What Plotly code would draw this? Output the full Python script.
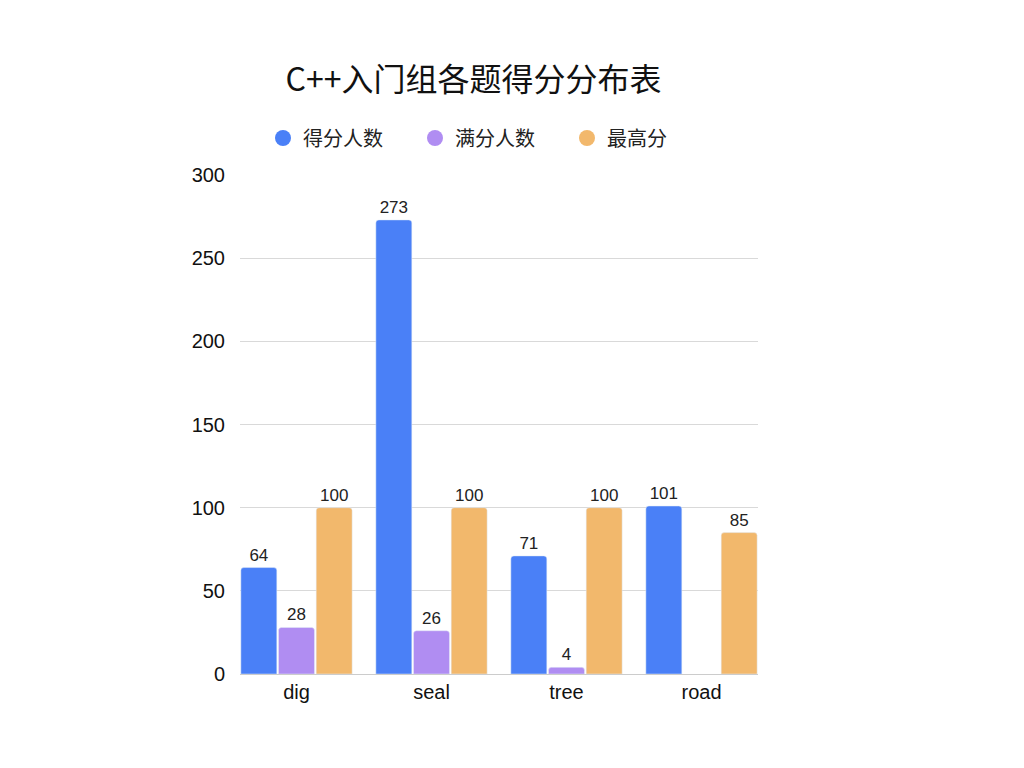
import plotly.graph_objects as go

categories = ["dig", "seal", "tree", "road"]
series_names = ["得分人数", "满分人数", "最高分"]
score_count = [64, 273, 71, 101]
full_count = [28, 26, 4, None]
max_score = [100, 100, 100, 85]
colors = ["#4A80F7", "#B08DF2", "#F2B86C"]
y_ticks = [0, 50, 100, 150, 200, 250, 300]

font_fam = "Liberation Sans, Noto Sans CJK SC, sans-serif"
cjk_fam = "Noto Sans CJK SC, sans-serif"
fig = go.Figure()
for name, vals, col in zip(series_names, [score_count, full_count, max_score], colors):
    fig.add_trace(go.Bar(
        x=categories, y=vals, name=name, marker_color=col, showlegend=False,
        text=[("" if v is None else str(v)) for v in vals], textposition="outside",
        textfont=dict(size=17, color="#222222", family=font_fam), cliponaxis=False,
    ))
for name, col in zip(series_names, colors):
    fig.add_trace(go.Scatter(
        x=[None], y=[None], mode="markers", name=name,
        marker=dict(symbol="circle", size=20, color=col), showlegend=True,
    ))

fig.update_layout(
    width=1024, height=768,
    margin=dict(l=240, r=266, t=175, b=94, autoexpand=False),
    paper_bgcolor="white", plot_bgcolor="white",
    barmode="group", bargap=0.163, bargroupgap=0.045, barcornerradius=3,
    font=dict(family=font_fam, color="#111111"),
    title=dict(text="C++入门组各题得分分布表", x=0.4624, xref="container", xanchor="center",
               y=1 - 80 / 768, yref="container", yanchor="middle",
               font=dict(size=32, color="#111111", family=cjk_fam)),
    legend=dict(orientation="h", x=(288 - 25) / 1024, xref="container", xanchor="left",
                y=1 - 138 / 768, yref="container", yanchor="middle",
                font=dict(size=20, color="#222222", family=cjk_fam),
                itemsizing="trace", entrywidth=107, entrywidthmode="pixels"),
    xaxis=dict(range=[-0.4185, 3.4185], showgrid=False, showline=True, linecolor="#cccccc",
               linewidth=1, tickfont=dict(size=20, color="#111111"), ticks="", zeroline=False),
    yaxis=dict(range=[0, 300], tickvals=y_ticks, showgrid=True, gridcolor="#d9d9d9", gridwidth=1,
               zeroline=False, tickfont=dict(size=20, color="#111111"), ticks="",
               ticklabelstandoff=14, showline=False),
)
fig.write_html("out.html")
